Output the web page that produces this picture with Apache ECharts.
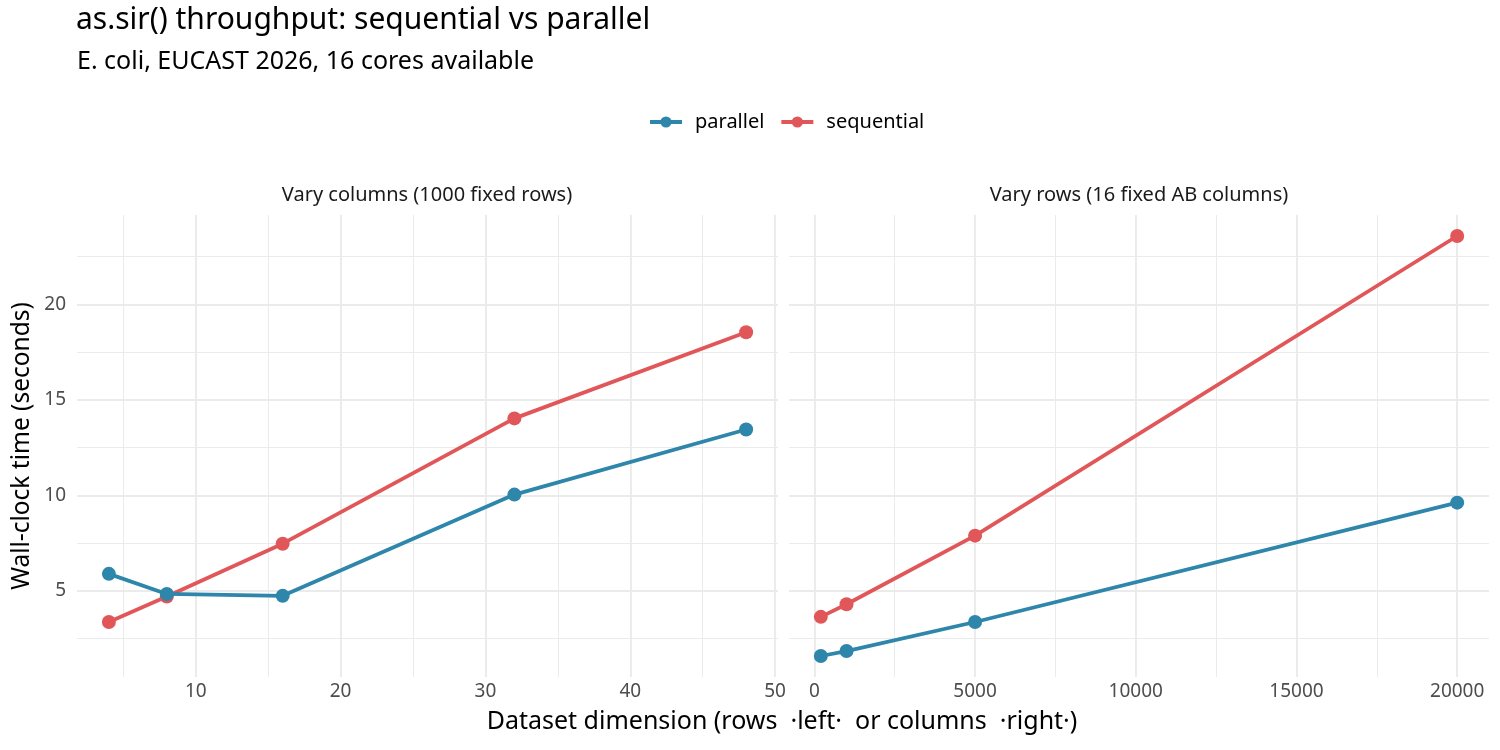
<!DOCTYPE html>
<html>
<head>
<meta charset="utf-8">
<title>as.sir() throughput</title>
<script src="https://cdn.jsdelivr.net/npm/echarts@6/dist/echarts.min.js"></script>
<style>
  html, body { margin: 0; padding: 0; background: #fff; }
  #chart { width: 1500px; height: 750px; }
</style>
</head>
<body>
<div id="chart"></div>
<script>
// data
var colsX = [4, 8, 16, 32, 48];
var colsParallel = [5.89, 4.84, 4.74, 10.04, 13.45];
var colsSequential = [3.37, 4.70, 7.47, 14.03, 18.54];

var rowsX = [200, 1000, 5000, 20000];
var rowsParallel = [1.59, 1.85, 3.37, 9.62];
var rowsSequential = [3.64, 4.30, 7.89, 23.58];

var colsMajor = [10, 20, 30, 40, 50];
var colsMinor = [5, 15, 25, 35, 45];
var rowsMajor = [0, 5000, 10000, 15000, 20000];
var rowsMinor = [2500, 7500, 12500, 17500];
var yMajor = [5, 10, 15, 20];
var yMinor = [2.5, 7.5, 12.5, 17.5, 22.5];

var FONT = 'Noto Sans';
var colParallel = '#2E86AB';
var colSequential = '#E15759';
var gridCol = '#ebebeb';

function zip(xs, ys) {
    return xs.map(function (x, i) { return [x, ys[i]]; });
}

// ggplot-style 5% expansion
function expand(lo, hi) {
    var d = (hi - lo) * 0.05;
    return [lo - d, hi + d];
}

var colsRange = expand(4, 48);
var rowsRange = expand(200, 20000);
var yRange = expand(1.59, 23.58);

function axisPair(kind, gridIndex, range, major, minor, showLabels) {
    var base = {
        type: 'value',
        gridIndex: gridIndex,
        min: range[0],
        max: range[1],
        axisLine: {show: false},
        splitArea: {show: false}
    };
    var main = Object.assign({}, base, {
        axisTick: {show: false, customValues: major},
        axisLabel: {
            show: showLabels,
            customValues: major,
            formatter: function (v) { return String(v); },
            color: '#4d4d4d',
            fontFamily: FONT,
            fontSize: 19,
            margin: kind === 'x' ? 5 : 11
        },
        splitLine: {show: true, lineStyle: {color: gridCol, width: 1.9}}
    });
    var sub = Object.assign({}, base, {
        axisTick: {show: false, customValues: minor},
        axisLabel: {show: false},
        splitLine: {show: true, lineStyle: {color: gridCol, width: 1}}
    });
    return [main, sub];
}

var xAxes = axisPair('x', 0, colsRange, colsMajor, colsMinor, true)
    .concat(axisPair('x', 1, rowsRange, rowsMajor, rowsMinor, true));
var yAxes = axisPair('y', 0, yRange, yMajor, yMinor, true)
    .concat(axisPair('y', 1, yRange, yMajor, yMinor, false));

yAxes[0].name = 'Wall-clock time (seconds)';
yAxes[0].nameLocation = 'middle';
yAxes[0].nameGap = 42;
yAxes[0].nameTextStyle = {color: '#000', fontFamily: FONT, fontSize: 24.5};

function lineSeries(name, color, xIdx, yIdx, data, z) {
    return {
        name: name,
        type: 'line',
        xAxisIndex: xIdx,
        yAxisIndex: yIdx,
        data: data,
        z: z,
        symbol: 'circle',
        symbolSize: 14,
        showSymbol: true,
        lineStyle: {color: color, width: 3.8},
        itemStyle: {color: color},
        emphasis: {disabled: true},
        animation: false
    };
}

var chart = echarts.init(document.getElementById('chart'));

var option = {
    backgroundColor: '#fff',
    textStyle: {fontFamily: FONT},
    title: [
        {text: 'as.sir() throughput: sequential vs parallel', left: 76, top: 5, padding: 0,
            textStyle: {fontFamily: FONT, fontSize: 30, fontWeight: 'normal', color: '#000'}},
        {text: 'E. coli, EUCAST 2026, 16 cores available', left: 77, top: 49, padding: 0,
            textStyle: {fontFamily: FONT, fontSize: 25, fontWeight: 'normal', color: '#000'}},
        {text: 'Vary columns (1000 fixed rows)', left: 427, top: 185, padding: 0, textAlign: 'center',
            textStyle: {fontFamily: FONT, fontSize: 20, fontWeight: 'normal', color: '#1a1a1a'}},
        {text: 'Vary rows (16 fixed AB columns)', left: 1139, top: 185, padding: 0, textAlign: 'center',
            textStyle: {fontFamily: FONT, fontSize: 20, fontWeight: 'normal', color: '#1a1a1a'}},
        {text: 'Dataset dimension (rows  \u00b7left\u00b7  or columns  \u00b7right\u00b7)', left: 782, top: 709, padding: 0,
            textAlign: 'center',
            textStyle: {fontFamily: FONT, fontSize: 25, fontWeight: 'normal', color: '#000'}}
    ],
    legend: {
        data: ['parallel', 'sequential'],
        left: 643,
        top: 107,
        itemWidth: 32,
        itemHeight: 14,
        itemGap: 15,
        lineStyle: {width: 4},
        textStyle: {fontFamily: FONT, fontSize: 20, color: '#000', padding: [0, 0, 0, 8]}
    },
    grid: [
        {left: 77, right: 722, top: 215, bottom: 73},
        {left: 789, right: 11, top: 215, bottom: 73}
    ],
    xAxis: xAxes,
    yAxis: yAxes,
    series: [
        lineSeries('sequential', colSequential, 0, 0, zip(colsX, colsSequential), 3),
        lineSeries('parallel', colParallel, 0, 0, zip(colsX, colsParallel), 4),
        lineSeries('sequential', colSequential, 2, 2, zip(rowsX, rowsSequential), 3),
        lineSeries('parallel', colParallel, 2, 2, zip(rowsX, rowsParallel), 4)
    ]
};

chart.setOption(option);
</script>
</body>
</html>
